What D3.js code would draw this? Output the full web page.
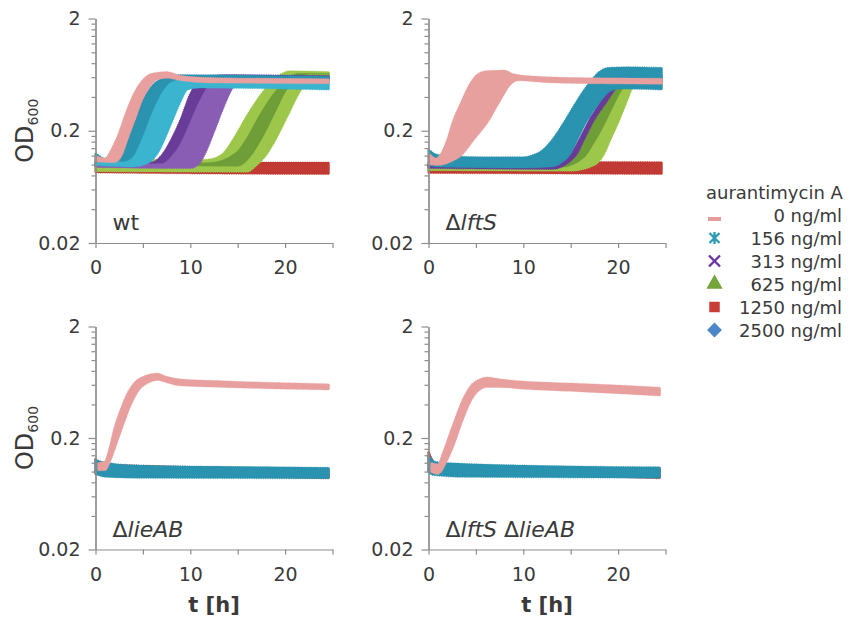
<!DOCTYPE html>
<html>
<head>
<meta charset="utf-8">
<script src="https://cdn.jsdelivr.net/npm/d3@7"></script>
<style>
  body { margin: 0; background: #fff; }
  text { font-family: "DejaVu Sans", "Liberation Sans", Arial, sans-serif; fill: #3a3a3a; }
</style>
</head>
<body>
<script>
// legend
var concLabels = ["0 ng/ml", "156 ng/ml", "313 ng/ml", "625 ng/ml", "1250 ng/ml", "2500 ng/ml"];
var concColors = ["#e69c9b", "#2f9db6", "#6b35a3", "#72a53a", "#c73d37", "#4a86c8"];
var concSymbols = ["dash", "asterisk", "times", "triangle", "square", "diamond"];

var yTicks = [0.02, 0.2, 2];
var yMinor = [0.04, 0.06, 0.08, 0.1, 0.12, 0.14, 0.16, 0.18, 0.4, 0.6, 0.8, 1, 1.2, 1.4, 1.6, 1.8];
var xTicks = [0, 5, 10, 15, 20, 25];

// edges of the replicate bands, [t (h), OD600]
// wt
var wtRedTop = [[0, 0.104], [12, 0.103], [24.6, 0.103]];
var wtRedBot = [[0, 0.086], [12, 0.084], [24.6, 0.083]];
var wtGreenA = [[0, 0.112], [10, 0.108], [12, 0.11], [13.5, 0.125], [14.8, 0.18], [16, 0.27], [17.6, 0.43], [19.2, 0.6], [20.5, 0.67], [24.6, 0.66]];
var wtGreenB = [[0, 0.104], [12, 0.102], [14.8, 0.125], [16, 0.17], [17.2, 0.26], [18.8, 0.42], [20.2, 0.57], [21.5, 0.64], [24.6, 0.64]];
var wtGreenC = [[0, 0.096], [15, 0.094], [16.6, 0.12], [17.7, 0.17], [19, 0.28], [20.3, 0.46], [21.4, 0.58], [22.5, 0.62], [24.6, 0.62]];
var wtGreenD = [[0, 0.088], [16, 0.087], [17, 0.1], [17.9, 0.12], [19, 0.17], [20.3, 0.28], [21.6, 0.46], [22.6, 0.57], [24.6, 0.59]];
var wtPurpleA = [[0, 0.108], [6, 0.104], [7, 0.12], [8, 0.165], [9, 0.25], [10, 0.42], [11, 0.56], [12, 0.61], [14, 0.62], [24.6, 0.61]];
var wtPurpleB = [[0, 0.104], [7, 0.1], [8, 0.115], [9, 0.15], [10, 0.23], [11, 0.36], [12, 0.5], [13, 0.58], [24.6, 0.58]];
var wtPurpleC = [[0, 0.096], [10, 0.094], [11, 0.105], [11.6, 0.13], [12.5, 0.2], [13.5, 0.33], [14.4, 0.48], [15.5, 0.56], [24.6, 0.55]];
var wtTealA = [[0, 0.125], [1, 0.112], [2.5, 0.115], [3.4, 0.16], [4.2, 0.25], [5, 0.37], [6, 0.5], [7, 0.58], [8, 0.62], [24.6, 0.6]];
var wtTealB = [[0, 0.11], [3, 0.104], [4, 0.115], [5, 0.17], [6, 0.28], [7, 0.42], [8, 0.53], [9, 0.56], [24.6, 0.53]];
var wtTealC = [[0, 0.1], [4, 0.097], [5.5, 0.104], [6.6, 0.13], [7.4, 0.18], [8.1, 0.25], [8.9, 0.36], [9.7, 0.47], [11, 0.49], [24.6, 0.47]];
var wtPinkA = [[0, 0.118], [1, 0.112], [1.8, 0.14], [2.5, 0.19], [3.2, 0.28], [4, 0.41], [5, 0.56], [6, 0.64], [7.5, 0.66], [9, 0.61], [12, 0.585], [24.6, 0.57]];
var wtPinkB = [[0, 0.108], [2, 0.106], [2.8, 0.125], [3.3, 0.165], [4.1, 0.25], [4.9, 0.38], [5.7, 0.5], [6.5, 0.58], [7.5, 0.6], [9, 0.57], [12, 0.545], [24.6, 0.535]];

// delta lftS
var lftRedTop = [[0, 0.105], [24.6, 0.104]];
var lftRedBot = [[0, 0.085], [24.6, 0.083]];
var lftGreenA = [[0, 0.1], [12, 0.095], [15, 0.113], [16, 0.15], [17, 0.21], [18, 0.3], [19.2, 0.44], [20.5, 0.58], [21.5, 0.63], [24.6, 0.62]];
var lftGreenB = [[0, 0.095], [14, 0.092], [16.5, 0.113], [17.5, 0.15], [18.5, 0.21], [19.4, 0.3], [20.4, 0.44], [21.4, 0.57], [22.5, 0.61], [24.6, 0.6]];
var lftGreenC = [[0, 0.09], [15, 0.089], [17.5, 0.1], [18.4, 0.121], [19.2, 0.17], [20, 0.24], [20.9, 0.37], [21.7, 0.53], [22.6, 0.59], [24.6, 0.58]];
var lftPurpleA = [[0, 0.1], [13, 0.096], [15, 0.121], [16, 0.17], [16.9, 0.24], [18.2, 0.36], [19.4, 0.5], [20.4, 0.57], [24.6, 0.57]];
var lftPurpleB = [[0, 0.094], [13, 0.092], [15.5, 0.121], [16.4, 0.17], [17.3, 0.24], [18.7, 0.36], [19.9, 0.5], [21, 0.57], [24.6, 0.56]];
var lftTealA = [[0, 0.135], [0.8, 0.122], [2, 0.118], [6, 0.115], [10, 0.115], [11, 0.12], [12, 0.132], [13.2, 0.17], [14.5, 0.25], [15.8, 0.38], [17, 0.53], [18, 0.66], [19, 0.72], [21, 0.73], [24.6, 0.72]];
var lftTealB = [[0, 0.1], [1, 0.097], [10, 0.095], [13, 0.097], [14, 0.105], [14.8, 0.121], [15.7, 0.17], [16.6, 0.24], [18, 0.36], [19.2, 0.46], [20.3, 0.48], [24.6, 0.47]];
var lftPinkA = [[0, 0.125], [0.8, 0.112], [1.3, 0.122], [2, 0.165], [2.6, 0.24], [3.5, 0.36], [4.3, 0.5], [5.1, 0.62], [6, 0.67], [8, 0.68], [9, 0.63], [12, 0.595], [18, 0.58], [24.6, 0.575]];
var lftPinkB = [[0, 0.102], [1, 0.1], [2.4, 0.108], [3.4, 0.121], [4.8, 0.17], [6.2, 0.24], [7.5, 0.37], [8.7, 0.53], [9.5, 0.57], [12, 0.55], [18, 0.535], [24.6, 0.53]];

// delta lieAB
var lieRedTop = [[0, 0.13], [0.5, 0.115], [24.6, 0.105]];
var lieRedBot = [[0, 0.095], [24.6, 0.088]];
var lieTealTop = [[0, 0.128], [0.5, 0.122], [2, 0.116], [5, 0.112], [10, 0.11], [24.6, 0.107]];
var lieTealBot = [[0, 0.096], [1, 0.091], [5, 0.089], [24.6, 0.088]];
var liePinkA = [[0.3, 0.118], [1, 0.122], [1.5, 0.16], [2, 0.24], [2.7, 0.36], [3.4, 0.5], [4.2, 0.63], [5.2, 0.71], [6.5, 0.75], [7.5, 0.7], [8.8, 0.665], [12, 0.645], [18, 0.62], [24.6, 0.6]];
var liePinkB = [[0.3, 0.104], [1, 0.104], [1.6, 0.13], [2.2, 0.18], [3, 0.28], [3.7, 0.4], [4.6, 0.55], [5.5, 0.63], [6.5, 0.67], [7.5, 0.64], [8.8, 0.6], [12, 0.585], [18, 0.565], [24.6, 0.55]];

// delta lftS delta lieAB
var dblRedTop = [[0, 0.15], [0.3, 0.13], [1, 0.115], [24.4, 0.105]];
var dblRedBot = [[0, 0.1], [24.4, 0.088]];
var dblTealTop = [[0, 0.14], [0.4, 0.125], [1, 0.12], [5, 0.115], [10, 0.112], [24.4, 0.108]];
var dblTealBot = [[0, 0.1], [0.5, 0.094], [3, 0.091], [24.4, 0.089]];
var dblPinkA = [[0.3, 0.118], [1, 0.115], [1.6, 0.15], [2.3, 0.22], [3, 0.32], [3.8, 0.47], [4.6, 0.6], [5.5, 0.67], [6.2, 0.69], [7.5, 0.665], [10, 0.635], [15, 0.61], [20, 0.585], [24.4, 0.56]];
var dblPinkB = [[0.3, 0.1], [1, 0.096], [1.9, 0.125], [2.7, 0.18], [3.5, 0.28], [4.3, 0.41], [5.2, 0.53], [6.2, 0.58], [7.5, 0.58], [10, 0.56], [15, 0.535], [20, 0.51], [24.4, 0.485]];

// shades of the replicate groups
var pink = "#e8a09f", tealDark = "#2a93b0", tealLight = "#3bb4cf",
    purpleDark = "#6a3c99", purpleLight = "#8a5db5",
    greenDark = "#6f9e38", greenLight = "#9dc74a", red = "#c13a33";

var panels = [
  { col: 0, row: 0, label: [["wt", false]], bands: [
      { curves: [wtRedTop, wtRedBot], fills: [red] },
      { curves: [wtGreenA, wtGreenB, wtGreenC, wtGreenD], fills: [greenLight, greenDark, greenLight] },
      { curves: [wtPurpleA, wtPurpleB, wtPurpleC], fills: [purpleDark, purpleLight] },
      { curves: [wtTealA, wtTealB, wtTealC], fills: [tealDark, tealLight] },
      { curves: [wtPinkA, wtPinkB], fills: [pink] } ] },
  { col: 1, row: 0, label: [["Δ", false], ["lftS", true]], bands: [
      { curves: [lftRedTop, lftRedBot], fills: [red] },
      { curves: [lftGreenA, lftGreenB, lftGreenC], fills: [greenDark, greenLight] },
      { curves: [lftPurpleA, lftPurpleB], fills: [purpleDark] },
      { curves: [lftTealA, lftTealB], fills: [tealDark] },
      { curves: [lftPinkA, lftPinkB], fills: [pink] } ] },
  { col: 0, row: 1, label: [["Δ", false], ["lieAB", true]], bands: [
      { curves: [lieRedTop, lieRedBot], fills: [red] },
      { curves: [lieTealTop, lieTealBot], fills: [tealDark] },
      { curves: [liePinkA, liePinkB], fills: [pink] } ] },
  { col: 1, row: 1, label: [["Δ", false], ["lftS ", true], ["Δ", false], ["lieAB", true]], bands: [
      { curves: [dblRedTop, dblRedBot], fills: [red] },
      { curves: [dblTealTop, dblTealBot], fills: [tealDark] },
      { curves: [dblPinkA, dblPinkB], fills: [pink] } ] }
];

var colX = [[95.5, 332.5], [428.5, 665.5]];
var rowY = [[243, 18.5], [549.5, 326.5]];
var axisColor = "#8c8c8c";

var svg = d3.select("body").append("svg")
    .attr("width", 852).attr("height", 631);

panels.forEach(function(p){
    var x = d3.scaleLinear().domain([0, 25]).range(colX[p.col]);
    var y = d3.scaleLog().domain([0.02, 2]).range(rowY[p.row]);
    var g = svg.append("g");

    var line = d3.line()
        .x(function(d){ return x(d[0]); })
        .y(function(d){ return y(d[1]); })
        .curve(d3.curveMonotoneX);

    // bands: fill between consecutive replicate edges, lightly hatched outer edges like the markers
    p.bands.forEach(function(b){
        var n = b.curves.length;
        for (var i = 0; i < n - 1; i++) {
            var back = line(b.curves[i + 1].slice().reverse());
            g.append("path")
                .attr("d", line(b.curves[i]) + "L" + back.slice(1) + "Z")
                .attr("fill", b.fills[i])
                .attr("stroke", b.fills[i])
                .attr("stroke-width", 2)
                .attr("stroke-linejoin", "round");
        }
        [[b.curves[0], b.fills[0]], [b.curves[n - 1], b.fills[n - 2]]].forEach(function(e){
            g.append("path")
                .attr("d", line(e[0]))
                .attr("fill", "none")
                .attr("stroke", e[1])
                .attr("stroke-width", 3)
                .attr("stroke-dasharray", "1 1.3")
                .attr("opacity", 0.7);
        });
    });

    // y axis
    g.append("g").attr("transform", "translate(" + colX[p.col][0] + ",0)")
        .call(d3.axisLeft(y).tickValues(yMinor).tickSize(4).tickSizeOuter(0).tickFormat(""));
    g.append("g").attr("transform", "translate(" + colX[p.col][0] + ",0)")
        .call(d3.axisLeft(y).tickValues(yTicks).tickSize(7).tickSizeOuter(0).tickPadding(8)
        .tickFormat(function(d){ return d; }));

    // x axis
    g.append("g").attr("transform", "translate(0," + rowY[p.row][0] + ")")
        .call(d3.axisBottom(x).tickValues(xTicks).tickSize(5).tickSizeOuter(0).tickPadding(13)
        .tickFormat(function(d){ return d % 10 === 0 ? d : ""; }));

    g.selectAll(".domain, .tick line").attr("stroke", axisColor).attr("stroke-width", 1.2);
    g.selectAll(".tick text").attr("font-family", null).attr("font-size", 19).style("fill", "#3a3a3a");

    // panel label
    var lab = g.append("text")
        .attr("x", x(0) + 17).attr("y", y(0.02) - 13)
        .attr("font-size", 22);
    p.label.forEach(function(s){
        lab.append("tspan").text(s[0]).attr("font-style", s[1] ? "italic" : null);
    });

    // axis titles
    if (p.col === 0) {
        var od = g.append("text")
            .attr("transform", "translate(33," + y(0.2) + ") rotate(-90)")
            .attr("text-anchor", "middle")
            .attr("font-size", 24);
        od.append("tspan").text("OD");
        od.append("tspan").text("600").attr("font-size", 14).attr("dy", 5);
    }
    if (p.row === 1) {
        g.append("text")
            .attr("x", (x(0) + x(25)) / 2).attr("y", 612)
            .attr("text-anchor", "middle")
            .attr("font-size", 21).attr("font-weight", "bold")
            .text("t [h]");
    }
});

// legend
var leg = svg.append("g");
leg.append("text").attr("x", 706).attr("y", 199).attr("font-size", 18).text("aurantimycin A");

concLabels.forEach(function(c, i){
    var yb = 222 + i * 23, cy = yb - 7, cx = 714.5;
    leg.append("text").attr("x", 842).attr("y", yb)
        .attr("text-anchor", "end").attr("font-size", 18).text(c);
    var s = concSymbols[i], col = concColors[i];
    var m = leg.append("g").attr("transform", "translate(" + cx + "," + cy + ")");
    if (s === "dash") {
        m.append("rect").attr("x", -6.5).attr("y", 2).attr("width", 13).attr("height", 4).attr("fill", col);
    } else if (s === "asterisk") {
        m.append("path").attr("d", "M-5,-5L5,5M-5,5L5,-5M0,-6L0,6")
            .attr("stroke", col).attr("stroke-width", 2.4).attr("fill", "none");
    } else if (s === "times") {
        m.append("path").attr("d", "M-5.5,-5.5L5.5,5.5M-5.5,5.5L5.5,-5.5")
            .attr("stroke", col).attr("stroke-width", 2.4).attr("fill", "none");
    } else if (s === "triangle") {
        m.append("path").attr("d", d3.symbol(d3.symbolTriangle, 115)()).attr("fill", col);
    } else if (s === "square") {
        m.append("path").attr("d", d3.symbol(d3.symbolSquare, 110)()).attr("fill", col);
    } else {
        m.append("path").attr("d", d3.symbol(d3.symbolSquare, 110)()).attr("transform", "rotate(45)").attr("fill", col);
    }
});
</script>
</body>
</html>
